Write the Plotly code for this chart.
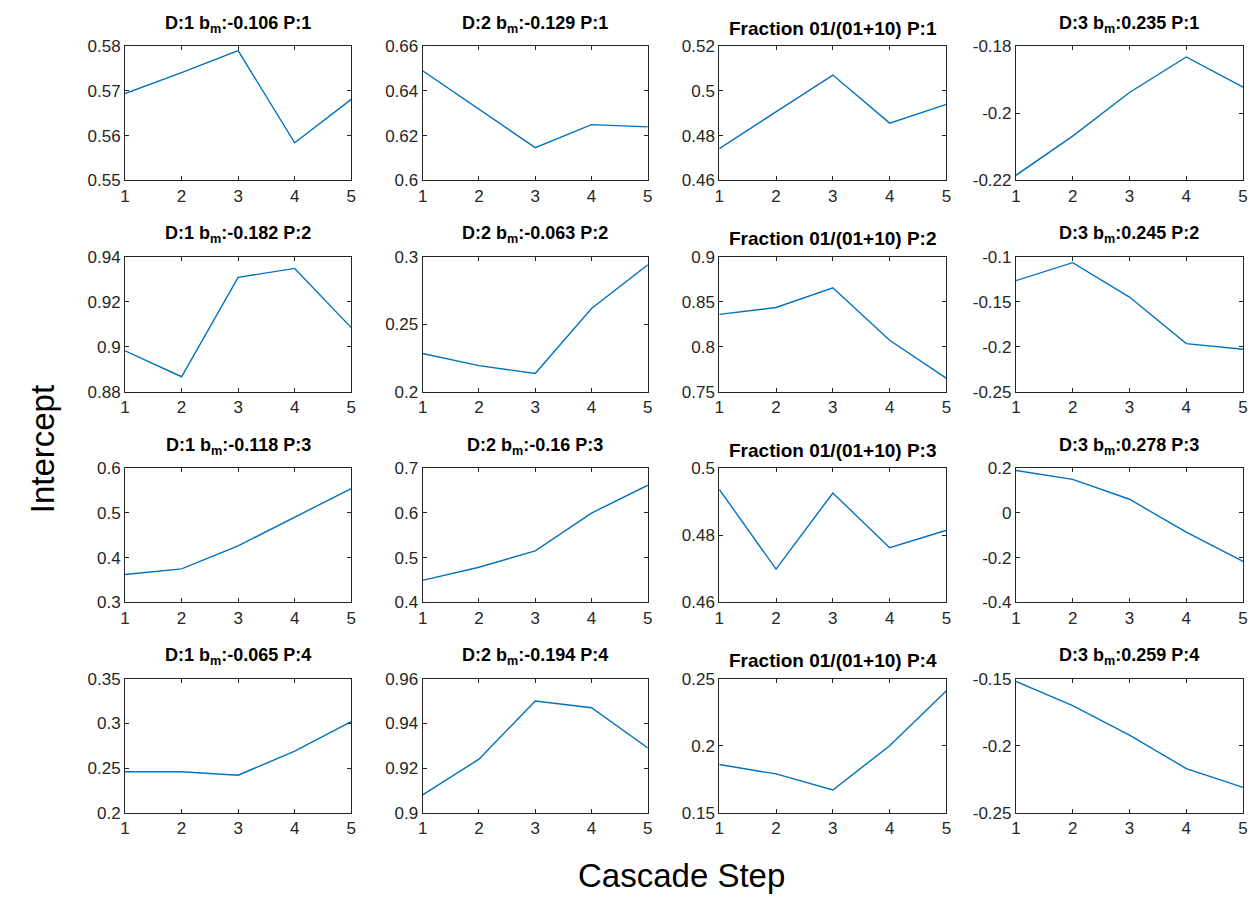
import plotly.graph_objects as go

steps = [1, 2, 3, 4, 5]

titles = [
    "D:1 b<sub>m</sub>:-0.106 P:1", "D:2 b<sub>m</sub>:-0.129 P:1", "Fraction 01/(01+10) P:1", "D:3 b<sub>m</sub>:0.235 P:1",
    "D:1 b<sub>m</sub>:-0.182 P:2", "D:2 b<sub>m</sub>:-0.063 P:2", "Fraction 01/(01+10) P:2", "D:3 b<sub>m</sub>:0.245 P:2",
    "D:1 b<sub>m</sub>:-0.118 P:3", "D:2 b<sub>m</sub>:-0.16 P:3", "Fraction 01/(01+10) P:3", "D:3 b<sub>m</sub>:0.278 P:3",
    "D:1 b<sub>m</sub>:-0.065 P:4", "D:2 b<sub>m</sub>:-0.194 P:4", "Fraction 01/(01+10) P:4", "D:3 b<sub>m</sub>:0.259 P:4",
]

# values per panel (row-major)
d1_p1 = [0.5694, 0.5741, 0.5790, 0.5584, 0.5681]
d2_p1 = [0.6490, 0.6320, 0.6146, 0.6249, 0.6239]
fr_p1 = [0.4742, 0.4907, 0.5071, 0.4856, 0.4940]
d3_p1 = [-0.2185, -0.2068, -0.1938, -0.1832, -0.1922]

d1_p2 = [0.8982, 0.8867, 0.9308, 0.9348, 0.9085]
d2_p2 = [0.2284, 0.2194, 0.2136, 0.2617, 0.2940]
fr_p2 = [0.8360, 0.8436, 0.8655, 0.8072, 0.7650]
d3_p2 = [-0.1266, -0.1066, -0.1448, -0.1965, -0.2027]

d1_p3 = [0.3623, 0.3748, 0.4262, 0.4900, 0.5545]
d2_p3 = [0.4490, 0.4785, 0.5152, 0.5996, 0.6619]
fr_p3 = [0.4937, 0.4699, 0.4926, 0.4763, 0.4815]
d3_p3 = [0.1897, 0.1500, 0.0611, -0.0860, -0.2166]

d1_p4 = [0.2460, 0.2460, 0.2420, 0.2690, 0.3020]
d2_p4 = [0.9080, 0.9240, 0.9500, 0.9470, 0.9290]
fr_p4 = [0.1860, 0.1790, 0.1670, 0.2000, 0.2410]
d3_p4 = [-0.1520, -0.1700, -0.1920, -0.2170, -0.2310]

series = [d1_p1, d2_p1, fr_p1, d3_p1,
          d1_p2, d2_p2, fr_p2, d3_p2,
          d1_p3, d2_p3, fr_p3, d3_p3,
          d1_p4, d2_p4, fr_p4, d3_p4]

yticks = [
    [0.55, 0.56, 0.57, 0.58], [0.6, 0.62, 0.64, 0.66], [0.46, 0.48, 0.5, 0.52], [-0.22, -0.2, -0.18],
    [0.88, 0.9, 0.92, 0.94], [0.2, 0.25, 0.3], [0.75, 0.8, 0.85, 0.9], [-0.25, -0.2, -0.15, -0.1],
    [0.3, 0.4, 0.5, 0.6], [0.4, 0.5, 0.6, 0.7], [0.46, 0.48, 0.5], [-0.4, -0.2, 0, 0.2],
    [0.2, 0.25, 0.3, 0.35], [0.9, 0.92, 0.94, 0.96], [0.15, 0.2, 0.25], [-0.25, -0.2, -0.15],
]
xticks = [1, 2, 3, 4, 5]

W, H = 1255, 908
col_px = [(121, 349), (421, 648), (720, 949), (1019, 1248)]
row_px = [(38, 175), (253, 391), (469, 606), (684, 821)]

AX = "#262626"
LINE = "#0072BD"
FONT = "Liberation Sans, Arial, Helvetica, sans-serif"

fig = go.Figure()
layout = dict(
    width=W, height=H, margin=dict(l=0, r=0, t=0, b=0),
    paper_bgcolor="white", plot_bgcolor="white", showlegend=False,
    font=dict(family=FONT, color=AX),
)
annotations = []

def fmt(v):
    return f"{v:g}"

for i in range(16):
    r, c = divmod(i, 4)
    n = i + 1
    xa = "x" if n == 1 else f"x{n}"
    ya = "y" if n == 1 else f"y{n}"
    fig.add_trace(go.Scatter(x=steps, y=series[i], mode="lines",
                             line=dict(color=LINE, width=1.4),
                             xaxis=xa, yaxis=ya, hoverinfo="x+y"))
    x0, x1 = col_px[c]
    y0, y1 = row_px[r]
    xd = [x0 / W, x1 / W]
    yd = [1 - y1 / H, 1 - y0 / H]
    yt = yticks[i]
    common = dict(showline=True, linecolor=AX, linewidth=1, mirror="ticks",
                  ticks="inside", ticklen=4, tickwidth=1, tickcolor=AX,
                  showgrid=False, zeroline=False,
                  tickfont=dict(family=FONT, size=17, color=AX))
    layout["xaxis" if n == 1 else f"xaxis{n}"] = dict(
        domain=xd, anchor=ya, range=[1, 5], tickmode="array",
        tickvals=xticks, ticktext=[str(v) for v in xticks], **common)
    layout["yaxis" if n == 1 else f"yaxis{n}"] = dict(
        domain=yd, anchor=xa, range=[yt[0], yt[-1]], tickmode="array",
        tickvals=yt, ticktext=[fmt(v) for v in yt], **common)
    is_frac = titles[i].startswith("Fraction")
    annotations.append(dict(
        text="<b>" + titles[i] + "</b>", xref="paper", yref="paper",
        x=(xd[0] + xd[1]) / 2, y=yd[1], xanchor="center", yanchor="middle",
        yshift=18 if is_frac else 22, showarrow=False,
        font=dict(family=FONT, size=19 if is_frac else 18, color="black")))

annotations.append(dict(text="Intercept", xref="paper", yref="paper",
                        x=38 / W, y=1 - 450 / H, xanchor="center", yanchor="middle",
                        textangle=-90, showarrow=False,
                        font=dict(family=FONT, size=33, color="black")))
annotations.append(dict(text="Cascade Step", xref="paper", yref="paper",
                        x=682 / W, y=1 - 885 / H, xanchor="center", yanchor="middle",
                        showarrow=False,
                        font=dict(family=FONT, size=33, color="black")))
layout["annotations"] = annotations
fig.update_layout(**layout)
fig.write_html("out.html")
